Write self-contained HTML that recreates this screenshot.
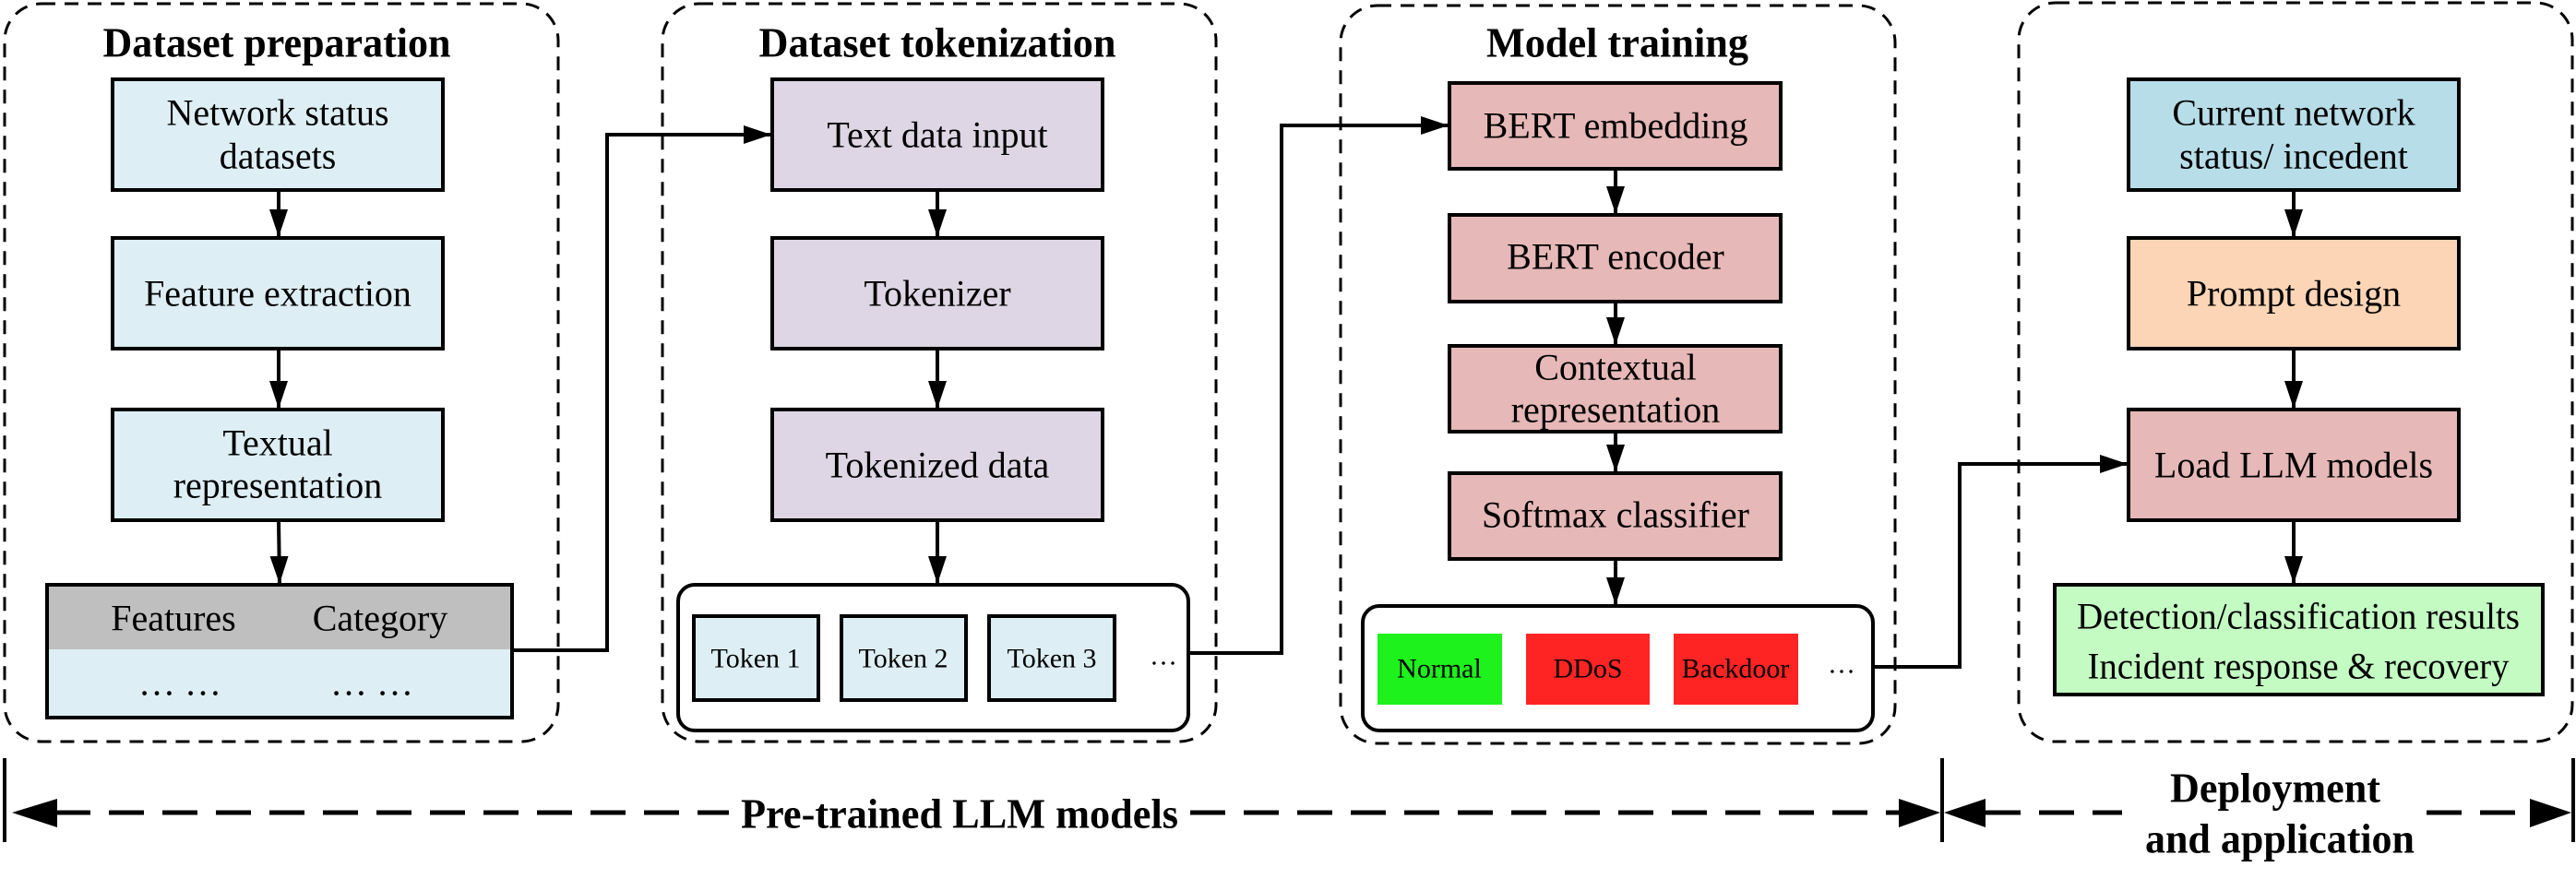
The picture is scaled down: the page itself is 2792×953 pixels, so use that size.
<!DOCTYPE html>
<html><head><meta charset="utf-8"><style>html,body{margin:0;padding:0;background:#fff}svg{display:block}</style></head><body>
<svg width="2792" height="953" viewBox="0 0 2792 953" xmlns="http://www.w3.org/2000/svg" font-family="'Liberation Serif', 'Noto Serif CJK SC', 'DejaVu Serif', serif">
<defs>
<marker id="ah" viewBox="0 0 30 20" refX="30" refY="10" markerWidth="30" markerHeight="20" markerUnits="userSpaceOnUse" orient="auto"><path d="M0,0 L30,10 L0,20 z" fill="#000"/></marker>
</defs>
<g fill="none" stroke="#000" stroke-width="3" stroke-dasharray="15,10">
<rect x="5" y="4" width="600" height="800" rx="40"/>
<rect x="718" y="4" width="600" height="800" rx="40"/>
<rect x="1453" y="6" width="601" height="800" rx="40"/>
<rect x="2188" y="3" width="600" height="801" rx="40"/>
</g>
<g font-weight="bold" font-size="46" text-anchor="middle" dominant-baseline="central">
<text x="300" y="46" textLength="377" lengthAdjust="spacingAndGlyphs">Dataset preparation</text>
<text x="1016" y="46" textLength="387" lengthAdjust="spacingAndGlyphs">Dataset tokenization</text>
<text x="1753" y="46" textLength="284" lengthAdjust="spacingAndGlyphs">Model training</text>
</g>
<g stroke="#000" stroke-width="4">
<rect x="122" y="86" width="358" height="120" fill="#DDEEF4"/>
<rect x="122" y="258" width="358" height="120" fill="#DDEEF4"/>
<rect x="122" y="444" width="358" height="120" fill="#DDEEF4"/>
<rect x="51" y="634" width="504" height="144" fill="#DDEEF4"/>
<rect x="837" y="86" width="358" height="120" fill="#DED6E4"/>
<rect x="837" y="258" width="358" height="120" fill="#DED6E4"/>
<rect x="837" y="444" width="358" height="120" fill="#DED6E4"/>
<rect x="735" y="634" width="553" height="158" rx="18" fill="#fff"/>
<rect x="752" y="668" width="135" height="91" fill="#DDEEF4"/>
<rect x="912" y="668" width="135" height="91" fill="#DDEEF4"/>
<rect x="1072" y="668" width="136" height="91" fill="#DDEEF4"/>
<rect x="1571" y="90" width="359" height="93" fill="#E6B8B7"/>
<rect x="1571" y="233" width="359" height="94" fill="#E6B8B7"/>
<rect x="1571" y="375" width="359" height="93" fill="#E6B8B7"/>
<rect x="1571" y="513" width="359" height="93" fill="#E6B8B7"/>
<rect x="1477" y="657" width="553" height="135" rx="18" fill="#fff"/>
<rect x="2307" y="86" width="358" height="120" fill="#B7DDE8"/>
<rect x="2307" y="258" width="358" height="120" fill="#FBD5B5"/>
<rect x="2307" y="444" width="358" height="120" fill="#E6B8B7"/>
<rect x="2227" y="634" width="529" height="119" fill="#C3FBC3"/>
</g>
<rect x="53" y="636" width="500" height="68" fill="#BFBFBF"/>
<rect x="1493" y="687" width="135" height="77" fill="#1DF21D"/>
<rect x="1654" y="687" width="134" height="77" fill="#FF2424"/>
<rect x="1814" y="687" width="135" height="77" fill="#FF2424"/>
<g font-size="40" text-anchor="middle" dominant-baseline="central">
<text x="301" y="122">Network status</text>
<text x="301" y="169">datasets</text>
<text x="301" y="318">Feature extraction</text>
<text x="301" y="480">Textual</text>
<text x="301" y="526">representation</text>
<text x="188" y="670">Features</text>
<text x="412" y="670">Category</text>
<text x="195" y="740">… …</text>
<text x="403" y="740">… …</text>
<text x="1016" y="146">Text data input</text>
<text x="1016" y="318">Tokenizer</text>
<text x="1016" y="504">Tokenized data</text>
<text x="1751" y="136">BERT embedding</text>
<text x="1751" y="278">BERT encoder</text>
<text x="1751" y="398">Contextual</text>
<text x="1751" y="444">representation</text>
<text x="1751" y="558">Softmax classifier</text>
<text x="2486" y="122">Current network</text>
<text x="2486" y="169">status/ incedent</text>
<text x="2486" y="318">Prompt design</text>
<text x="2486" y="504">Load LLM models</text>
<text x="2491" y="668" textLength="480" lengthAdjust="spacingAndGlyphs">Detection/classification results</text>
<text x="2491" y="722" textLength="457" lengthAdjust="spacingAndGlyphs">Incident response &amp; recovery</text>
</g>
<g font-size="30" text-anchor="middle" dominant-baseline="central">
<text x="819" y="714">Token 1</text>
<text x="979" y="714">Token 2</text>
<text x="1140" y="714">Token 3</text>
<text x="1261" y="711">…</text>
<text x="1560" y="725">Normal</text>
<text x="1721" y="725">DDoS</text>
<text x="1881" y="725">Backdoor</text>
<text x="1996" y="720">…</text>
</g>
<g fill="none" stroke="#000" stroke-width="4" marker-end="url(#ah)">
<line x1="302" y1="206" x2="302" y2="257"/>
<line x1="302" y1="378" x2="302" y2="443"/>
<line x1="302" y1="564" x2="303" y2="633"/>
<line x1="1016" y1="206" x2="1016" y2="257"/>
<line x1="1016" y1="378" x2="1016" y2="443"/>
<line x1="1016" y1="564" x2="1016" y2="633"/>
<line x1="1751" y1="183" x2="1751" y2="232"/>
<line x1="1751" y1="327" x2="1751" y2="374"/>
<line x1="1751" y1="468" x2="1751" y2="512"/>
<line x1="1751" y1="606" x2="1751" y2="656"/>
<line x1="2486" y1="206" x2="2486" y2="257"/>
<line x1="2486" y1="378" x2="2486" y2="443"/>
<line x1="2486" y1="564" x2="2486" y2="633"/>
<polyline points="555,705 658,705 658,146 836,146"/>
<polyline points="1288,708 1389,708 1389,136 1570,136"/>
<polyline points="2030,723 2124,723 2124,503 2306,503"/>
</g>
<g stroke="#000" stroke-width="4">
<line x1="5" y1="822" x2="5" y2="913"/>
<line x1="2105" y1="822" x2="2105" y2="913"/>
<line x1="2789" y1="822" x2="2789" y2="913"/>
</g>
<g stroke="#000" stroke-width="5" stroke-dasharray="38,20">
<line x1="60" y1="881" x2="790" y2="881"/>
<line x1="1290" y1="881" x2="2060" y2="881"/>
<line x1="2152" y1="881" x2="2300" y2="881"/>
<line x1="2630" y1="881" x2="2745" y2="881"/>
</g>
<g fill="#000">
<path d="M13,881 L62,866 L62,897 z"/>
<path d="M2103,881 L2058,866 L2058,897 z"/>
<path d="M2107,881 L2152,866 L2152,897 z"/>
<path d="M2787,881 L2742,866 L2742,897 z"/>
</g>
<g font-weight="bold" font-size="46" text-anchor="middle" dominant-baseline="central">
<text x="1040" y="882" textLength="474" lengthAdjust="spacingAndGlyphs">Pre-trained LLM models</text>
<text x="2466" y="854" textLength="228" lengthAdjust="spacingAndGlyphs">Deployment</text>
<text x="2471" y="909" textLength="292" lengthAdjust="spacingAndGlyphs">and application</text>
</g>
</svg>
</body></html>
